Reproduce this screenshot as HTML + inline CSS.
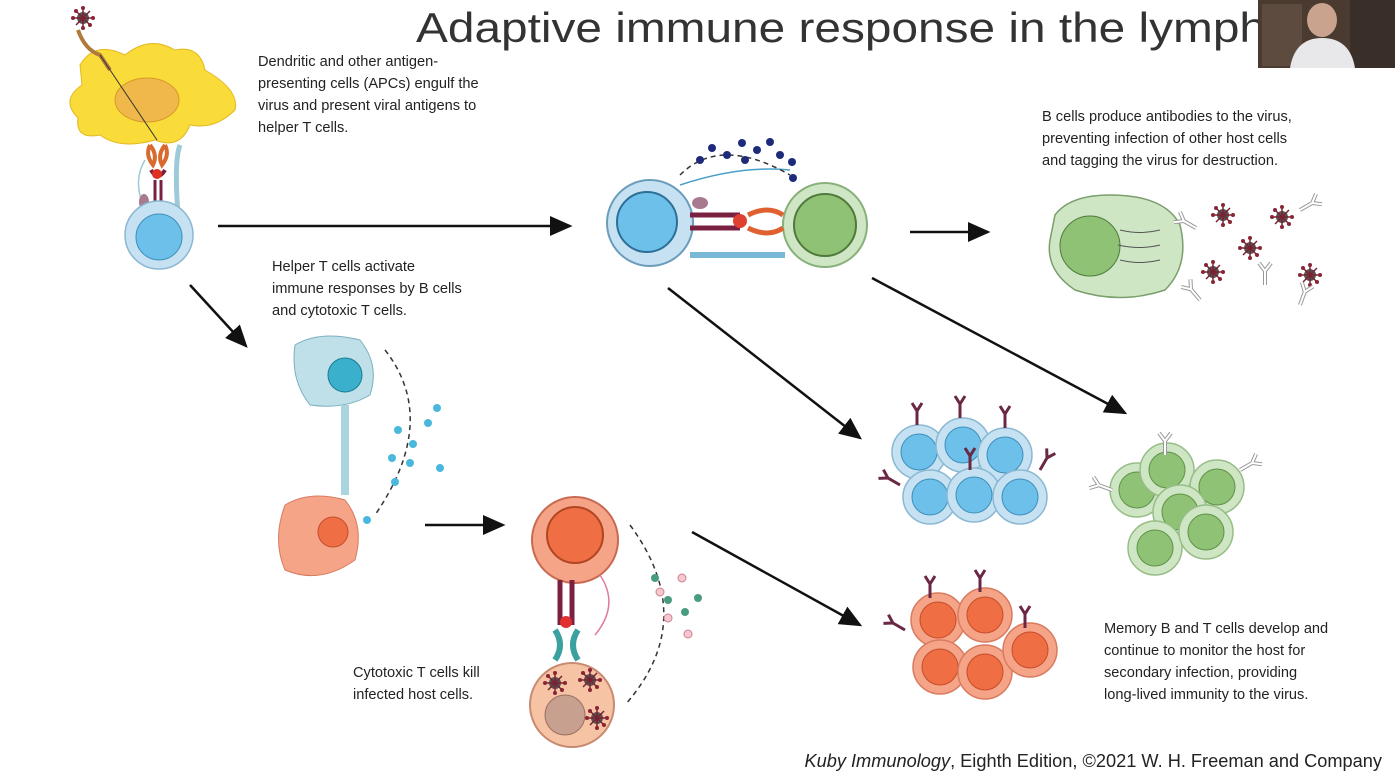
<!DOCTYPE html>
<html><head><meta charset="utf-8"><style>
html,body{margin:0;padding:0;background:#fff;}
svg{display:block;font-family:"Liberation Sans",sans-serif;}
.cap{font-size:14.6px;fill:#222;}
</style></head><body>
<svg width="1395" height="776" viewBox="0 0 1395 776">
<defs>
<marker id="ah" markerWidth="10" markerHeight="10" refX="8" refY="5" orient="auto"><path d="M0,1 L9,5 L0,9 z" fill="#111"/></marker>
<g id="virus"><circle r="6" fill="#555"/><g stroke="#7a2030" stroke-width="1.5"><line x1="-10" y1="0" x2="10" y2="0"/><line x1="0" y1="-10" x2="0" y2="10"/><line x1="-7" y1="-7" x2="7" y2="7"/><line x1="-7" y1="7" x2="7" y2="-7"/></g><g fill="#8a2535"><circle cx="-10" cy="0" r="2"/><circle cx="10" cy="0" r="2"/><circle cx="0" cy="-10" r="2"/><circle cx="0" cy="10" r="2"/><circle cx="7" cy="7" r="2"/><circle cx="-7" cy="-7" r="2"/></g></g>
<g id="bcell"><circle r="27" fill="#c6e2f2" stroke="#8ab8d3" stroke-width="1.5"/><circle r="18" fill="#6cc0ea" stroke="#3e8fba"/></g>
<g id="gcell"><circle r="27" fill="#cfe6c4" stroke="#97bd88" stroke-width="1.5"/><circle r="18" fill="#8fc275" stroke="#5e9347"/></g>
<g id="ocell"><circle r="27" fill="#f6a488" stroke="#d87b60" stroke-width="1.5"/><circle r="18" fill="#f06e44" stroke="#c24e2a"/></g>
<g id="ab"><path d="M0,0 v-14 M0,-14 l-5,-8 M0,-14 l5,-8" stroke="#6a2845" stroke-width="3" fill="none"/></g>
<g id="abw"><path d="M0,0 v-14 M0,-14 l-6,-8 M0,-14 l6,-8" stroke="#999" stroke-width="4" fill="none"/><path d="M0,0 v-14 M0,-14 l-6,-8 M0,-14 l6,-8" stroke="#fff" stroke-width="2" fill="none"/></g>
</defs>

<text x="416" y="42" font-size="42" fill="#333" textLength="850" lengthAdjust="spacingAndGlyphs">Adaptive immune response in the lymph</text>

<g>
<rect x="1258" y="0" width="137" height="68" fill="#4a3a30"/>
<rect x="1262" y="4" width="40" height="62" fill="#5c4b3e"/>
<rect x="1350" y="0" width="45" height="68" fill="#3a2e28"/>
<ellipse cx="1322" cy="20" rx="15" ry="17" fill="#c9a38e"/>
<path d="M1290,68 Q1295,38 1322,38 Q1350,38 1355,68 z" fill="#e8e8ea"/>
</g>

<g>
<path d="M80,65 Q95,40 125,55 Q150,35 175,50 Q200,45 205,70 Q240,90 235,110 Q215,130 190,125 Q180,150 155,140 Q120,150 100,135 Q75,140 78,118 Q60,100 82,85 Z" fill="#f9dc3a" stroke="#e3b820"/>
<ellipse cx="147" cy="100" rx="32" ry="22" fill="#f0b84a" stroke="#d69a2a"/>
<use href="#virus" x="83" y="18"/>
<path d="M78,30 Q85,50 100,55 L110,70" stroke="#b07a3a" stroke-width="4" fill="none"/>
<path d="M100,55 L157,140" stroke="#333" stroke-width="1"/>
</g>
<g>
<path d="M150,145 q-5,10 3,20 q5,-10 -3,-20 M165,145 q5,10 -3,20 q-5,-10 3,-20" stroke="#d86a30" stroke-width="4" fill="none"/>
<path d="M151,170 q7,12 14,0" stroke="#7a2040" stroke-width="4" fill="none"/>
<circle cx="157" cy="174" r="5" fill="#e03020"/>
<path d="M155,180 v25 M161,180 v25" stroke="#7a2040" stroke-width="3"/>
<path d="M180,145 q-6,15 -2,70" stroke="#9ccad8" stroke-width="5" fill="none"/>
<path d="M145,160 q-12,20 -2,45" stroke="#9ccad8" stroke-width="1.5" fill="none"/>
<ellipse cx="144" cy="202" rx="5" ry="8" fill="#a87a90"/>
<circle cx="159" cy="235" r="34" fill="#c6e2f2" stroke="#8ab8d3" stroke-width="1.5"/>
<circle cx="159" cy="237" r="23" fill="#6cc0ea" stroke="#3e8fba"/>
</g>

<text class="cap"><tspan x="258" y="66">Dendritic and other antigen-</tspan><tspan x="258" y="88">presenting cells (APCs) engulf the</tspan><tspan x="258" y="110">virus and present viral antigens to</tspan><tspan x="258" y="132">helper T cells.</tspan></text>

<g stroke="#111" stroke-width="2.5" marker-end="url(#ah)">
<line x1="218" y1="226" x2="570" y2="226"/>
<line x1="190" y1="285" x2="246" y2="346"/>
<line x1="910" y1="232" x2="988" y2="232"/>
<line x1="668" y1="288" x2="860" y2="438"/>
<line x1="872" y1="278" x2="1125" y2="413"/>
<line x1="425" y1="525" x2="503" y2="525"/>
<line x1="692" y1="532" x2="860" y2="625"/>
</g>

<g>
<circle cx="650" cy="223" r="43" fill="#c6e2f2" stroke="#6a9cbc" stroke-width="2"/>
<circle cx="647" cy="222" r="30" fill="#6cc0ea" stroke="#2d6f96" stroke-width="2"/>
<circle cx="825" cy="225" r="42" fill="#cfe6c4" stroke="#88b07a" stroke-width="2"/>
<circle cx="825" cy="225" r="31" fill="#8fc275" stroke="#4f7a3c" stroke-width="2"/>
<path d="M690,215 h50 M690,228 h50" stroke="#7a2040" stroke-width="5"/>
<circle cx="740" cy="221" r="7" fill="#e04030"/>
<path d="M748,215 q20,-10 35,0 M748,228 q20,10 35,0" stroke="#e06030" stroke-width="5" fill="none"/>
<path d="M680,185 q60,-20 110,-15" stroke="#4aa0c8" stroke-width="1.5" fill="none"/>
<path d="M690,255 h95" stroke="#7ab8d8" stroke-width="6"/>
<ellipse cx="700" cy="203" rx="8" ry="6" fill="#a87a90"/>
<path d="M680,175 q40,-40 110,0" stroke="#333" stroke-width="1.5" stroke-dasharray="5,4" fill="none"/>
<g fill="#1e2a7a"><circle cx="700" cy="160" r="4"/><circle cx="712" cy="148" r="4"/><circle cx="727" cy="155" r="4"/><circle cx="742" cy="143" r="4"/><circle cx="757" cy="150" r="4"/><circle cx="770" cy="142" r="4"/><circle cx="780" cy="155" r="4"/><circle cx="792" cy="162" r="4"/><circle cx="745" cy="160" r="4"/><circle cx="793" cy="178" r="4"/></g>
</g>

<text class="cap"><tspan x="1042" y="121">B cells produce antibodies to the virus,</tspan><tspan x="1042" y="143">preventing infection of other host cells</tspan><tspan x="1042" y="165">and tagging the virus for destruction.</tspan></text>

<g>
<path d="M1055,215 Q1070,195 1110,195 Q1165,195 1180,225 Q1190,265 1165,290 Q1120,305 1075,290 Q1045,270 1050,240 Z" fill="#cfe6c4" stroke="#7a9e6c" stroke-width="1.5"/>
<circle cx="1090" cy="246" r="30" fill="#8fc275" stroke="#4f7a3c"/>
<path d="M1120,230 q20,5 40,0 M1118,245 q22,5 42,0 M1120,260 q20,5 40,0" stroke="#555" fill="none"/>
</g>
<g>
<use href="#virus" x="1223" y="215"/><use href="#virus" x="1282" y="217"/><use href="#virus" x="1250" y="248"/><use href="#virus" x="1213" y="272"/><use href="#virus" x="1310" y="275"/>
<use href="#abw" x="1196" y="228" transform="rotate(-60 1196 228)"/><use href="#abw" x="1300" y="210" transform="rotate(60 1300 210)"/><use href="#abw" x="1265" y="285"/><use href="#abw" x="1200" y="300" transform="rotate(-40 1200 300)"/><use href="#abw" x="1300" y="305" transform="rotate(20 1300 305)"/>
</g>

<text class="cap"><tspan x="272" y="271">Helper T cells activate</tspan><tspan x="272" y="293">immune responses by B cells</tspan><tspan x="272" y="315">and cytotoxic T cells.</tspan></text>

<g>
<path d="M295,345 Q320,330 360,340 Q380,365 370,395 Q345,410 310,405 Q290,380 295,345Z" fill="#bfe0e8" stroke="#7ab0c0"/>
<circle cx="345" cy="375" r="17" fill="#3ab0cc" stroke="#1d7c94"/>
<path d="M345,405 v90" stroke="#aad4e0" stroke-width="8"/>
<path d="M285,505 Q310,490 345,500 Q365,525 355,560 Q320,585 285,570 Q272,540 285,505Z" fill="#f6a488" stroke="#d87b60"/>
<circle cx="333" cy="532" r="15" fill="#f06e44" stroke="#c24e2a"/>
<path d="M385,350 Q440,420 375,515" stroke="#333" stroke-width="1.5" stroke-dasharray="5,4" fill="none"/>
<g fill="#4ab8dc"><circle cx="437" cy="408" r="4"/><circle cx="428" cy="423" r="4"/><circle cx="398" cy="430" r="4"/><circle cx="413" cy="444" r="4"/><circle cx="392" cy="458" r="4"/><circle cx="410" cy="463" r="4"/><circle cx="440" cy="468" r="4"/><circle cx="395" cy="482" r="4"/><circle cx="367" cy="520" r="4"/></g>
</g>

<g>
<circle cx="575" cy="540" r="43" fill="#f6a488" stroke="#c86a50" stroke-width="2"/>
<circle cx="575" cy="535" r="28" fill="#f06e44" stroke="#b04522" stroke-width="2"/>
<path d="M560,580 v45 M572,580 v45" stroke="#7a2040" stroke-width="5"/>
<circle cx="566" cy="622" r="6" fill="#e03030"/>
<path d="M555,630 q10,15 0,30 M578,630 q-10,15 0,30" stroke="#3aa0a0" stroke-width="6" fill="none"/>
<circle cx="572" cy="705" r="42" fill="#f7c3a5" stroke="#c88a70" stroke-width="2"/>
<circle cx="565" cy="715" r="20" fill="#c8a090" stroke="#9a7060"/>
<use href="#virus" x="555" y="683"/><use href="#virus" x="590" y="680"/><use href="#virus" x="597" y="718"/>
<path d="M600,575 q20,30 -5,60" stroke="#e07aa0" stroke-width="1.5" fill="none"/>
<path d="M630,525 Q700,620 625,705" stroke="#333" stroke-width="1.5" stroke-dasharray="5,4" fill="none"/>
<g fill="#4a9c80"><circle cx="655" cy="578" r="4"/><circle cx="668" cy="600" r="4"/><circle cx="685" cy="612" r="4"/><circle cx="698" cy="598" r="4"/></g>
<g fill="#f4c8d0" stroke="#d08090"><circle cx="682" cy="578" r="4"/><circle cx="660" cy="592" r="4"/><circle cx="668" cy="618" r="4"/><circle cx="688" cy="634" r="4"/></g>
</g>

<text class="cap"><tspan x="353" y="677">Cytotoxic T cells kill</tspan><tspan x="353" y="699">infected host cells.</tspan></text>

<g>
<use href="#bcell" x="919" y="452"/><use href="#bcell" x="963" y="445"/><use href="#bcell" x="1005" y="455"/>
<use href="#bcell" x="930" y="497"/><use href="#bcell" x="974" y="495"/><use href="#bcell" x="1020" y="497"/>
<use href="#ab" x="917" y="425"/><use href="#ab" x="960" y="418"/><use href="#ab" x="1005" y="428"/><use href="#ab" x="1040" y="470" transform="rotate(30 1040 470)"/><use href="#ab" x="970" y="470"/><use href="#ab" x="900" y="485" transform="rotate(-60 900 485)"/>
</g>
<g>
<use href="#gcell" x="1137" y="490"/><use href="#gcell" x="1167" y="470"/><use href="#gcell" x="1217" y="487"/>
<use href="#gcell" x="1180" y="512"/><use href="#gcell" x="1155" y="548"/><use href="#gcell" x="1206" y="532"/>
<use href="#abw" x="1165" y="455"/><use href="#abw" x="1240" y="470" transform="rotate(60 1240 470)"/><use href="#abw" x="1112" y="490" transform="rotate(-70 1112 490)"/>
</g>
<g>
<use href="#ocell" x="938" y="620"/><use href="#ocell" x="985" y="615"/>
<use href="#ocell" x="940" y="667"/><use href="#ocell" x="985" y="672"/><use href="#ocell" x="1030" y="650"/>
<use href="#ab" x="930" y="598"/><use href="#ab" x="980" y="592"/><use href="#ab" x="1025" y="628"/><use href="#ab" x="905" y="630" transform="rotate(-60 905 630)"/>
</g>

<text class="cap"><tspan x="1104" y="633">Memory B and T cells develop and</tspan><tspan x="1104" y="655">continue to monitor the host for</tspan><tspan x="1104" y="677">secondary infection, providing</tspan><tspan x="1104" y="699">long-lived immunity to the virus.</tspan></text>

<text x="1382" y="767" text-anchor="end" font-size="18.2" fill="#222"><tspan font-style="italic">Kuby Immunology</tspan>, Eighth Edition, ©2021 W. H. Freeman and Company</text>
</svg>
</body></html>
